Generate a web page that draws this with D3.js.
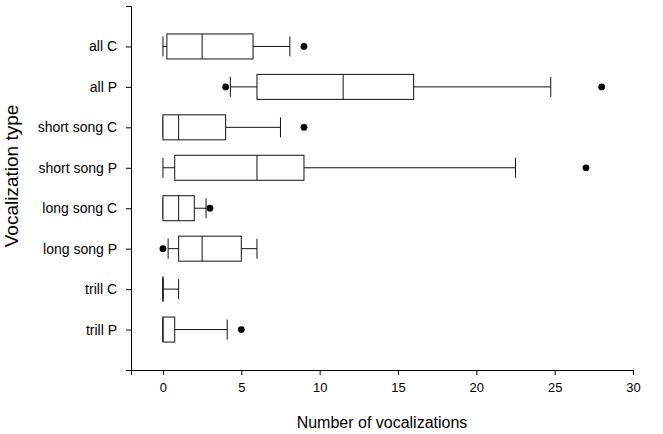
<!DOCTYPE html>
<html>
<head>
<meta charset="utf-8">
<script src="https://cdn.jsdelivr.net/npm/d3@7"></script>
<style>
  html, body { margin: 0; padding: 0; background: #fff; }
  svg { display: block; font-family: "Liberation Sans", Arial, sans-serif; }
</style>
</head>
<body>
<svg id="chart" width="663" height="434"></svg>
<script>
const categories = ["all C", "all P", "short song C", "short song P", "long song C", "long song P", "trill C", "trill P"];
const lowerWhisker = [0, 4.3, 0, 0, 0, 0.33, 0, 0];
const q1 = [0.25, 6, 0, 0.75, 0, 1, 0, 0];
const median = [2.5, 11.5, 1, 6, 1, 2.5, 0, 0];
const q3 = [5.75, 16, 4, 9, 2, 5, 0, 0.75];
const upperWhisker = [8.1, 24.75, 7.5, 22.5, 2.75, 6, 1, 4.1];
const outliers = [[9], [4, 28], [9], [27], [3], [0], [], [5]];
const xTicks = [0, 5, 10, 15, 20, 25, 30];

const svg = d3.select("#chart");
const n = categories.length;
// position: first category on top
const pos = i => n - i;

const x = d3.scaleLinear().domain([-2.04, 30]).range([131, 633]);
const y = d3.scaleLinear().domain([0, 9]).range([370, 6]);

const boxH = 25, capH = 20;
const stroke = "#111";

// axes
const xAxis = d3.axisBottom(x).tickValues(xTicks).tickSizeOuter(0).tickSize(5).tickPadding(8);
const gx = svg.append("g").attr("transform", "translate(0,370)").call(xAxis);
gx.selectAll("text").attr("font-size", 13).attr("fill", "#000").attr("font-family", "Liberation Sans, Arial, sans-serif");

const yAxis = d3.axisLeft(y).tickValues(categories.map((c, i) => pos(i)))
  .tickFormat(v => categories[n - v]).tickSizeOuter(0).tickSize(5).tickPadding(9);
const gy = svg.append("g").attr("transform", "translate(131,0)").call(yAxis);
gy.selectAll("text").attr("font-size", 14).attr("fill", "#000").attr("font-family", "Liberation Sans, Arial, sans-serif");

svg.selectAll(".domain, .tick line").attr("stroke", "#000");

// boxes
const g = svg.append("g").attr("fill", "none").attr("stroke", stroke).attr("stroke-width", 1);
categories.forEach((c, i) => {
  const cy = y(pos(i));
  // whiskers
  g.append("line").attr("x1", x(lowerWhisker[i])).attr("x2", x(q1[i])).attr("y1", cy).attr("y2", cy);
  g.append("line").attr("x1", x(q3[i])).attr("x2", x(upperWhisker[i])).attr("y1", cy).attr("y2", cy);
  // caps
  g.append("line").attr("x1", x(lowerWhisker[i])).attr("x2", x(lowerWhisker[i])).attr("y1", cy - capH / 2).attr("y2", cy + capH / 2);
  g.append("line").attr("x1", x(upperWhisker[i])).attr("x2", x(upperWhisker[i])).attr("y1", cy - capH / 2).attr("y2", cy + capH / 2);
  // box
  g.append("rect").attr("x", x(q1[i])).attr("y", cy - boxH / 2)
    .attr("width", x(q3[i]) - x(q1[i])).attr("height", boxH).attr("fill", "#fff");
  if (q3[i] === q1[i]) {
    g.append("line").attr("x1", x(q1[i])).attr("x2", x(q1[i])).attr("y1", cy - boxH / 2).attr("y2", cy + boxH / 2);
  }
  // median
  g.append("line").attr("x1", x(median[i])).attr("x2", x(median[i])).attr("y1", cy - boxH / 2).attr("y2", cy + boxH / 2);
  // outliers
  outliers[i].forEach(o => {
    svg.append("circle").attr("cx", x(o)).attr("cy", cy).attr("r", 3.4).attr("fill", "#000");
  });
});

// axis titles
svg.append("text").attr("x", 382).attr("y", 428).attr("text-anchor", "middle")
  .attr("font-size", 16).attr("fill", "#000").text("Number of vocalizations");
svg.append("text").attr("transform", "translate(18,176) rotate(-90)").attr("text-anchor", "middle")
  .attr("font-size", 19).attr("fill", "#000").text("Vocalization type");
</script>
</body>
</html>
